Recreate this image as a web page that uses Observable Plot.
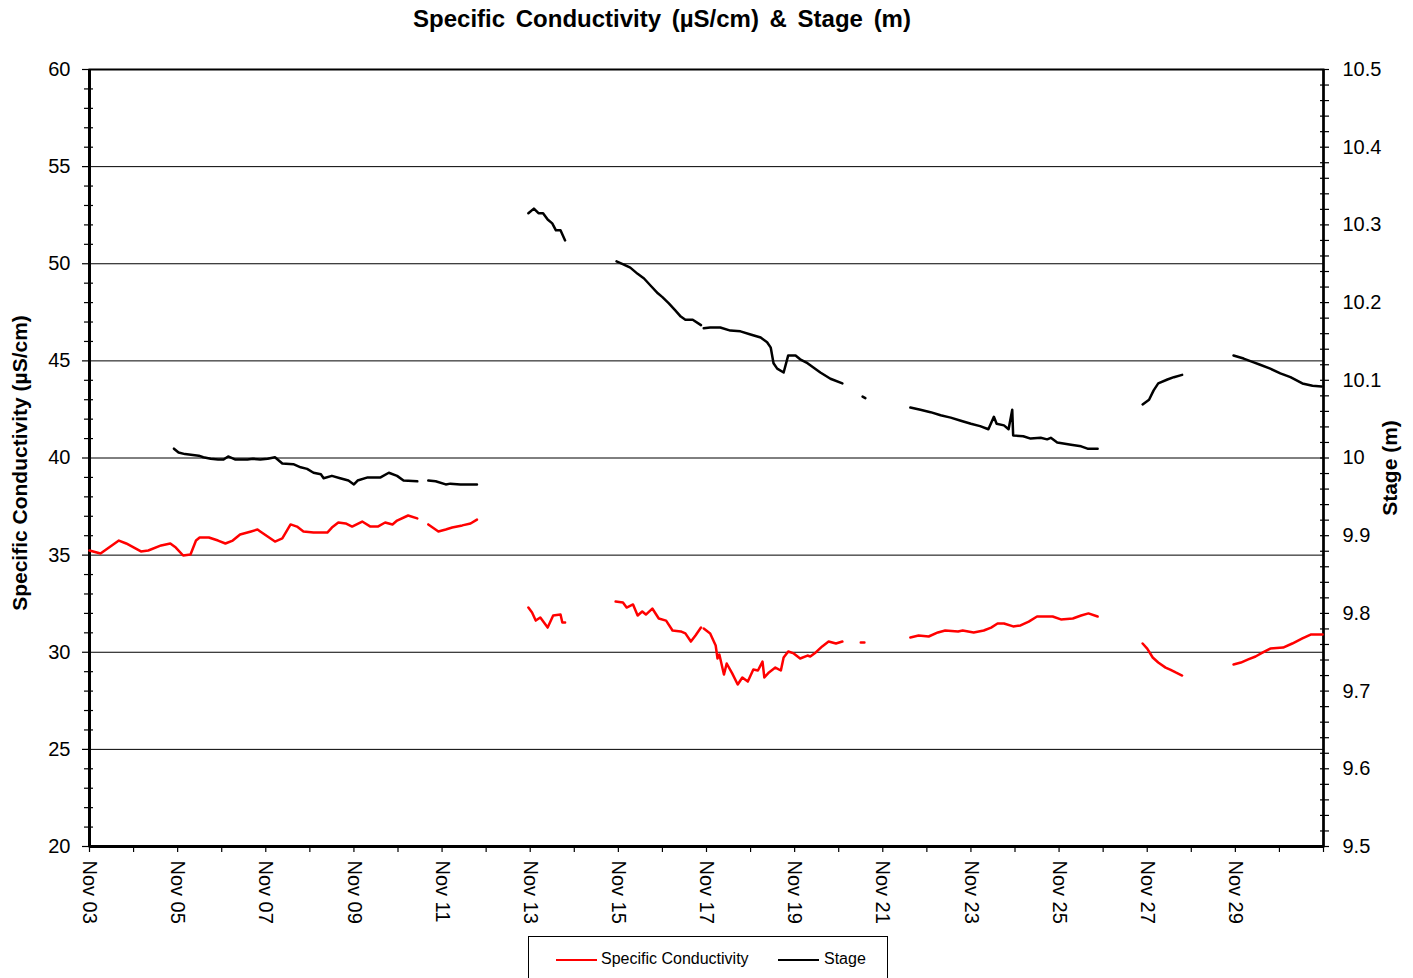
<!DOCTYPE html>
<html><head><meta charset="utf-8">
<script src="https://cdn.jsdelivr.net/npm/d3@7"></script>
<script src="https://cdn.jsdelivr.net/npm/@observablehq/plot@0.6"></script>
<style>
body{margin:0;background:#fff;font-family:Arial,"Liberation Sans",sans-serif;}
#wrap{position:relative;width:1413px;height:978px;overflow:hidden;background:#fff;}
#title{position:absolute;left:0;top:5px;width:1324px;text-align:center;font-weight:bold;font-size:24px;word-spacing:4px;color:#000;}
#chart{position:absolute;left:0;top:40px;}
#legend{position:absolute;left:528px;top:936px;width:358px;height:60px;border:1px solid #000;background:#fff;font-size:16px;}
#legend .sw{position:absolute;top:22px;width:41px;height:0;border-top:2px solid;}
#legend .lb{position:absolute;top:13px;white-space:nowrap;}
</style></head>
<body><div id="wrap">
<div id="title">Specific Conductivity (µS/cm) &amp; Stage (m)</div>
<div id="chart"></div>
<div id="legend">
  <div class="sw" style="left:27px;border-color:#ff0000"></div><div class="lb" style="left:72px">Specific Conductivity</div>
  <div class="sw" style="left:249px;border-color:#000"></div><div class="lb" style="left:295px">Stage</div>
</div>
</div>
<script>
const year = "2009";
const xStart = "11/03 00:00";
const xEnd = "12/01 00:00";
const xTickDays = ["11/03","11/04","11/05","11/06","11/07","11/08","11/09","11/10","11/11","11/12","11/13","11/14","11/15","11/16","11/17","11/18","11/19","11/20","11/21","11/22","11/23","11/24","11/25","11/26","11/27","11/28","11/29","11/30","12/01"];
const xTickLabels = ["Nov 03","","Nov 05","","Nov 07","","Nov 09","","Nov 11","","Nov 13","","Nov 15","","Nov 17","","Nov 19","","Nov 21","","Nov 23","","Nov 25","","Nov 27","","Nov 29","",""];

const condMajor = [20,25,30,35,40,45,50,55,60];
const condMajorLabels = ["20","25","30","35","40","45","50","55","60"];
const condGrid = [25,30,35,40,45,50,55];
const condMinor = [21,22,23,24,26,27,28,29,31,32,33,34,36,37,38,39,41,42,43,44,46,47,48,49,51,52,53,54,56,57,58,59];
const stageMajor = [9.5,9.6,9.7,9.8,9.9,10.0,10.1,10.2,10.3,10.4,10.5];
const stageMajorLabels = ["9.5","9.6","9.7","9.8","9.9","10","10.1","10.2","10.3","10.4","10.5"];
const stageMinor = [9.52,9.54,9.56,9.58,9.62,9.64,9.66,9.68,9.72,9.74,9.76,9.78,9.82,9.84,9.86,9.88,9.92,9.94,9.96,9.98,10.02,10.04,10.06,10.08,10.12,10.14,10.16,10.18,10.22,10.24,10.26,10.28,10.32,10.34,10.36,10.38,10.42,10.44,10.46,10.48];
const condDomain = [20,60];
const stageDomain = [9.5,10.5];

const condTime = ["11/03 00:00","11/03 06:00","11/03 16:00","11/03 20:00","11/04 04:00","11/04 08:00","11/04 15:00","11/04 20:00","11/04 23:00","11/05 03:00","11/05 07:00","11/05 10:00","11/05 12:00","11/05 17:00","11/05 22:00","11/06 02:00","11/06 06:00","11/06 10:00","11/06 16:00","11/06 19:30","11/06 21:00","11/07 01:00","11/07 05:00","11/07 09:00","11/07 13:30","11/07 17:00","11/07 20:30","11/08 02:00","11/08 09:30","11/08 12:00","11/08 15:30","11/08 19:30","11/08 23:00","11/09 04:30","11/09 09:00","11/09 13:00","11/09 17:00","11/09 21:00","11/09 23:30","11/10 05:30","11/10 10:30","11/10 13:00","11/10 16:30","11/10 22:00","11/11 02:00","11/11 05:30","11/11 11:00","11/11 15:30","11/11 19:00","11/12 12:00","11/12 23:00","11/13 01:00","11/13 03:00","11/13 05:30","11/13 09:30","11/13 12:30","11/13 16:30","11/13 17:30","11/13 19:00","11/14 10:00","11/14 22:30","11/15 02:30","11/15 04:30","11/15 08:00","11/15 10:30","11/15 13:00","11/15 15:00","11/15 18:30","11/15 22:00","11/16 02:00","11/16 05:30","11/16 10:00","11/16 12:30","11/16 15:30","11/16 18:00","11/16 21:00","11/16 21:45","11/16 22:30","11/17 02:00","11/17 05:00","11/17 06:00","11/17 07:00","11/17 09:30","11/17 11:00","11/17 14:00","11/17 17:00","11/17 19:30","11/17 22:30","11/18 01:30","11/18 04:00","11/18 06:30","11/18 07:30","11/18 10:00","11/18 13:30","11/18 16:30","11/18 18:00","11/18 20:30","11/18 23:30","11/19 03:00","11/19 07:00","11/19 08:30","11/19 11:30","11/19 15:00","11/19 18:30","11/19 22:30","11/20 02:00","11/20 08:00","11/20 12:00","11/20 14:00","11/21 00:00","11/21 15:00","11/21 19:30","11/22 01:00","11/22 06:00","11/22 10:00","11/22 17:00","11/22 19:30","11/23 01:30","11/23 07:00","11/23 11:00","11/23 14:30","11/23 18:00","11/23 23:00","11/24 03:00","11/24 07:30","11/24 12:00","11/24 20:30","11/25 01:00","11/25 07:30","11/25 12:00","11/25 16:00","11/25 21:00","11/26 09:00","11/26 21:30","11/27 00:00","11/27 03:00","11/27 06:00","11/27 10:00","11/27 12:30","11/27 15:30","11/27 19:00","11/28 09:00","11/28 23:00","11/29 03:00","11/29 07:00","11/29 11:00","11/29 15:00","11/29 19:00","11/30 02:00","11/30 07:00","11/30 12:30","11/30 17:00","11/30 23:30"];
const condValue = [35.24,35.08,35.75,35.6,35.19,35.24,35.5,35.6,35.39,34.98,35.03,35.75,35.91,35.91,35.75,35.6,35.75,36.06,36.22,36.32,36.22,35.96,35.7,35.86,36.58,36.47,36.22,36.16,36.16,36.42,36.68,36.63,36.47,36.73,36.47,36.47,36.68,36.58,36.78,37.04,36.89,null,36.58,36.22,36.32,36.42,36.53,36.63,36.83,null,32.3,32.05,31.63,31.79,31.27,31.89,31.94,31.53,31.53,null,32.61,32.56,32.3,32.46,31.89,32.1,31.94,32.25,31.74,31.63,31.12,31.07,30.97,30.55,30.86,31.27,null,31.22,30.97,30.35,29.68,29.88,28.85,29.42,28.91,28.34,28.7,28.49,29.11,29.06,29.52,28.7,28.96,29.21,29.06,29.73,30.04,29.94,29.68,29.83,29.78,29.99,30.3,30.55,30.45,30.55,null,30.5,30.5,null,30.76,30.86,30.81,31.02,31.12,31.07,31.12,31.02,31.12,31.27,31.48,31.48,31.33,31.38,31.58,31.84,31.84,31.69,31.74,31.89,32.0,31.84,null,30.45,30.19,29.73,29.47,29.21,29.11,28.96,28.8,null,29.37,29.47,29.63,29.78,29.99,30.19,30.24,30.45,30.71,30.91,30.91];

const stageTime = ["11/04 22:00","11/05 00:30","11/05 04:00","11/05 11:30","11/05 14:00","11/05 18:00","11/05 22:00","11/06 01:00","11/06 03:30","11/06 07:30","11/06 14:00","11/06 17:00","11/06 21:00","11/07 01:00","11/07 05:00","11/07 09:00","11/07 15:00","11/07 19:00","11/07 22:30","11/08 02:00","11/08 06:00","11/08 07:30","11/08 12:00","11/08 16:30","11/08 21:00","11/09 00:00","11/09 02:00","11/09 07:30","11/09 14:30","11/09 19:00","11/09 23:30","11/10 03:00","11/10 10:30","11/10 13:00","11/10 16:30","11/10 20:30","11/11 02:00","11/11 04:30","11/11 10:00","11/11 19:00","11/12 12:00","11/12 23:00","11/13 02:00","11/13 04:30","11/13 07:00","11/13 09:30","11/13 12:00","11/13 14:00","11/13 16:30","11/13 19:00","11/14 10:00","11/14 23:00","11/15 03:00","11/15 06:30","11/15 10:30","11/15 14:00","11/15 17:30","11/15 21:30","11/16 00:00","11/16 03:30","11/16 07:00","11/16 10:00","11/16 12:30","11/16 16:30","11/16 21:00","11/16 21:45","11/16 22:30","11/17 02:00","11/17 07:30","11/17 13:00","11/17 18:30","11/18 00:00","11/18 05:30","11/18 09:00","11/18 11:00","11/18 12:30","11/18 14:30","11/18 18:00","11/18 20:30","11/19 00:30","11/19 03:00","11/19 07:00","11/19 14:00","11/19 19:30","11/20 02:00","11/20 08:00","11/20 13:00","11/20 14:30","11/21 00:00","11/21 15:00","11/21 20:30","11/22 02:00","11/22 07:30","11/22 13:00","11/22 18:30","11/23 00:00","11/23 05:00","11/23 09:30","11/23 12:30","11/23 14:00","11/23 18:00","11/23 20:30","11/23 22:30","11/23 23:00","11/24 04:30","11/24 08:30","11/24 14:00","11/24 17:30","11/24 19:30","11/24 23:00","11/25 06:30","11/25 12:00","11/25 15:30","11/25 21:00","11/26 09:00","11/26 21:30","11/27 01:00","11/27 03:30","11/27 06:00","11/27 11:00","11/27 14:30","11/27 19:00","11/28 09:00","11/28 23:00","11/29 04:30","11/29 10:00","11/29 13:30","11/29 19:00","11/30 00:30","11/30 06:00","11/30 12:30","11/30 18:00","11/30 23:00"];
const stageValue = [10.012,10.007,10.005,10.003,10.001,9.999,9.998,9.998,10.002,9.998,9.998,9.999,9.998,9.999,10.001,9.993,9.992,9.988,9.986,9.981,9.979,9.974,9.977,9.974,9.971,9.966,9.971,9.975,9.975,9.981,9.977,9.971,9.970,null,9.971,9.970,9.966,9.967,9.966,9.966,null,10.315,10.321,10.315,10.315,10.307,10.302,10.293,10.293,10.280,null,10.253,10.249,10.245,10.237,10.231,10.222,10.212,10.207,10.199,10.190,10.182,10.178,10.178,10.171,null,10.167,10.168,10.168,10.164,10.163,10.159,10.155,10.149,10.142,10.122,10.115,10.110,10.132,10.132,10.127,10.122,10.110,10.102,10.096,null,10.079,10.077,null,10.065,10.062,10.059,10.055,10.052,10.048,10.044,10.041,10.037,10.053,10.044,10.042,10.037,10.062,10.029,10.028,10.025,10.026,10.024,10.026,10.020,10.017,10.015,10.012,10.012,null,10.069,10.075,10.087,10.096,10.101,10.104,10.107,null,10.132,10.128,10.123,10.120,10.115,10.109,10.104,10.096,10.093,10.092];

const parse = d3.utcParse("%Y/%m/%d %H:%M");
const pt = s => parse(year + "/" + s);
const pd = s => parse(year + "/" + s + " 00:00");
const stageToCond = d3.scaleLinear(stageDomain, condDomain);

const condData = condTime.map((t, i) => ({t: pt(t), v: condValue[i]}));
const stageData = stageTime.map((t, i) => ({t: pt(t), v: stageValue[i]}));
const dayTicks = xTickDays.map(pd);
const labelOf = new Map(dayTicks.map((d, i) => [+d, xTickLabels[i]]));
const condLabelOf = new Map(condMajor.map((v, i) => [v, condMajorLabels[i]]));
const stageLabelOf = new Map(stageMajor.map((v, i) => [+stageToCond(v).toFixed(6), stageMajorLabels[i]]));

const chart = Plot.plot({
  width: 1413,
  height: 890,
  marginLeft: 89,
  marginRight: 90,
  marginTop: 29,
  marginBottom: 84,
  style: {fontFamily: "Arial, 'Liberation Sans', sans-serif", fontSize: "20px", color: "#000", background: "#fff"},
  x: {type: "utc", domain: [pt(xStart), pt(xEnd)]},
  y: {domain: condDomain},
  marks: [
    Plot.gridY(condGrid, {stroke: "#000", strokeOpacity: 1, strokeWidth: 1}),
    Plot.frame({stroke: "#000", strokeWidth: 2}),
    Plot.ruleY([condDomain[0]], {stroke: "#000", strokeWidth: 3}),
    Plot.ruleX([pt(xStart)], {stroke: "#000", strokeWidth: 3}),
    Plot.ruleX([pt(xEnd)], {stroke: "#000", strokeWidth: 2.5}),
    // left axis
    Plot.axisY(condMinor, {anchor: "left", tickSize: 9, dx: 4, tickFormat: () => "", label: null, strokeWidth: 1.2}),
    Plot.axisY(condMajor, {anchor: "left", tickSize: 7, tickPadding: 12, tickFormat: d => condLabelOf.get(d), label: null, fontSize: 20, strokeWidth: 1.2}),
    // right axis (stage)
    Plot.axisY(stageMinor.map(stageToCond), {anchor: "right", tickSize: 9, dx: -4, tickFormat: () => "", label: null, strokeWidth: 1.2}),
    Plot.axisY(stageMajor.map(stageToCond), {anchor: "right", tickSize: 9, dx: -4, tickPadding: 14, tickFormat: d => stageLabelOf.get(+d.toFixed(6)), label: null, fontSize: 20, strokeWidth: 1.2}),
    // x axis
    Plot.axisX(dayTicks, {anchor: "bottom", tickSize: 6, tickPadding: 8, tickRotate: 90, tickFormat: d => labelOf.get(+d), label: null, fontSize: 20, strokeWidth: 1.2}),
    // axis titles
    Plot.text(["Specific Conductivity (µS/cm)"], {frameAnchor: "left", textAnchor: "middle", rotate: -90, dx: -69, dy: 5, fontWeight: "bold", fontSize: 21}),
    Plot.text(["Stage (m)"], {frameAnchor: "right", textAnchor: "middle", rotate: -90, dx: 67, dy: 10, fontWeight: "bold", fontSize: 21}),
    // series
    Plot.line(condData, {x: "t", y: "v", stroke: "#ff0000", strokeWidth: 2.5}),
    Plot.line(stageData, {x: "t", y: d => d.v == null ? null : stageToCond(d.v), stroke: "#000", strokeWidth: 2.5})
  ]
});
document.getElementById("chart").appendChild(chart);
</script>
</body></html>
